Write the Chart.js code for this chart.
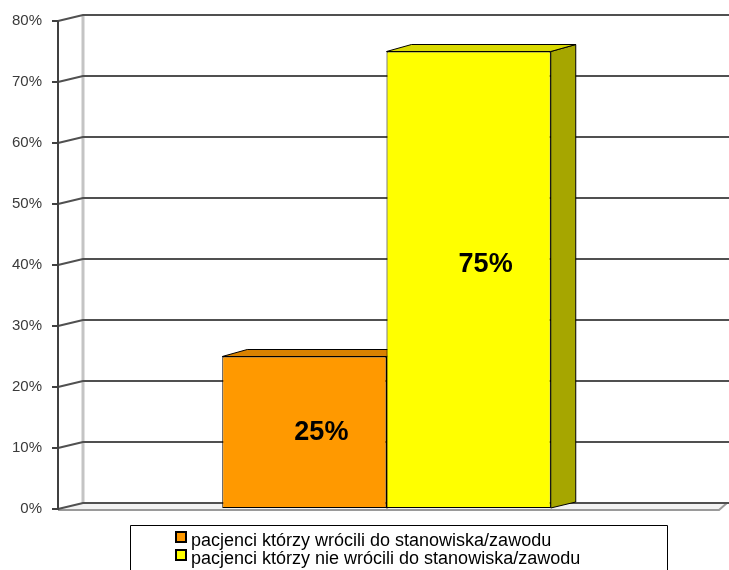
<!DOCTYPE html>
<html>
<head>
<meta charset="utf-8">
<script src="https://cdn.jsdelivr.net/npm/chart.js@4"></script>
<style>
html,body{margin:0;padding:0;background:#fff;}
#wrap{width:729px;height:570px;position:relative;}
</style>
</head>
<body>
<div id="wrap"><canvas id="c" width="729" height="570"></canvas></div>
<script>
const categories = [''];
const seriesLabels = ['pacjenci którzy wrócili do stanowiska/zawodu', 'pacjenci którzy nie wrócili do stanowiska/zawodu'];
const seriesValues = [[25], [75]];
const tickValues = [0, 10, 20, 30, 40, 50, 60, 70, 80];
const frontColors = ['#ff9900', '#ffff00'];
const topColors = ['#d98200', '#d9d900'];
const sideColors = ['#b36b00', '#a6a600'];

const DX = 25, DY = 6;

const threeD = {
  id: 'threeD',
  beforeDatasetsDraw(chart) {
    const ctx = chart.ctx;
    const y = chart.scales.y;
    const area = chart.chartArea;
    const L = area.left, R = area.right;
    ctx.save();
    // back wall vertical
    ctx.strokeStyle = '#c4c4c4';
    ctx.lineWidth = 3;
    ctx.beginPath();
    ctx.moveTo(L + DX, y.getPixelForValue(80) - DY);
    ctx.lineTo(L + DX, y.getPixelForValue(0) - DY);
    ctx.stroke();
    // floor
    const y0 = y.getPixelForValue(0);
    ctx.fillStyle = '#f2f2f2';
    ctx.beginPath();
    ctx.moveTo(L, y0);
    ctx.lineTo(L + DX, y0 - DY);
    ctx.lineTo(727, y0 - DY);
    ctx.lineTo(R + 4, y0 + 1);
    ctx.closePath();
    ctx.fill();
    ctx.strokeStyle = '#9a9a9a';
    ctx.lineWidth = 2;
    ctx.beginPath();
    ctx.moveTo(L, y0 + 1);
    ctx.lineTo(R + 4, y0 + 1);
    ctx.lineTo(727, y0 - DY);
    ctx.stroke();
    // gridlines
    ctx.strokeStyle = '#505050';
    ctx.lineWidth = 2;
    tickValues.forEach(v => {
      const py = y.getPixelForValue(v);
      ctx.beginPath();
      ctx.moveTo(L, py);
      ctx.lineTo(L + DX, py - DY);
      ctx.lineTo(729, py - DY);
      ctx.stroke();
    });
    // front axis line
    ctx.strokeStyle = '#404040';
    ctx.lineWidth = 2;
    ctx.beginPath();
    ctx.moveTo(L, y.getPixelForValue(80));
    ctx.lineTo(L, y0 + 1);
    ctx.stroke();
    // bar top and side faces
    chart.data.datasets.forEach((ds, i) => {
      const meta = chart.getDatasetMeta(i);
      meta.data.forEach(bar => {
        const x0 = bar.x - bar.width / 2, x1 = bar.x + bar.width / 2;
        const yt = bar.y, yb = bar.base;
        ctx.lineWidth = 1;
        ctx.strokeStyle = '#000';
        ctx.fillStyle = sideColors[i];
        ctx.beginPath();
        ctx.moveTo(x1, yt);
        ctx.lineTo(x1 + DX, yt - DY - 1);
        ctx.lineTo(x1 + DX, yb - DY);
        ctx.lineTo(x1, yb);
        ctx.closePath();
        ctx.fill(); ctx.stroke();
        ctx.fillStyle = topColors[i];
        ctx.beginPath();
        ctx.moveTo(x0, yt);
        ctx.lineTo(x0 + DX, yt - DY - 1);
        ctx.lineTo(x1 + DX, yt - DY - 1);
        ctx.lineTo(x1, yt);
        ctx.closePath();
        ctx.fill(); ctx.stroke();
      });
    });
    ctx.restore();
  },
  afterDatasetsDraw(chart) {
    const ctx = chart.ctx;
    ctx.save();
    ctx.font = 'bold 27px "Liberation Sans", Arial, sans-serif';
    ctx.fillStyle = '#000';
    ctx.textAlign = 'center';
    ctx.textBaseline = 'middle';
    chart.data.datasets.forEach((ds, i) => {
      const meta = chart.getDatasetMeta(i);
      meta.data.forEach((bar, j) => {
        const v = ds.data[j];
        const cy = Math.min((bar.y + bar.base) / 2, bar.y + 213);
        ctx.fillText(v + '%', bar.x + 17, cy);
      });
    });
    ctx.restore();
  },
  afterDraw(chart) {
    const ctx = chart.ctx;
    ctx.save();
    // legend box
    ctx.strokeStyle = '#000';
    ctx.lineWidth = 1;
    ctx.fillStyle = '#fff';
    ctx.beginPath();
    ctx.rect(130.5, 525.5, 537, 60);
    ctx.fill();
    ctx.stroke();
    ctx.font = '18px "Liberation Sans", Arial, sans-serif';
    ctx.textBaseline = 'alphabetic';
    ctx.textAlign = 'left';
    chart.data.datasets.forEach((ds, i) => {
      const top = 531 + i * 18;
      ctx.fillStyle = frontColors[i];
      ctx.fillRect(176, top + 1, 10, 10);
      ctx.lineWidth = 2;
      ctx.strokeStyle = '#000';
      ctx.strokeRect(176, top + 1, 10, 10);
      ctx.fillStyle = '#000';
      ctx.fillText(ds.label, 191, top + 15);
    });
    ctx.restore();
  }
};

new Chart(document.getElementById('c'), {
  type: 'bar',
  data: {
    labels: categories,
    datasets: seriesLabels.map((lab, i) => ({
      label: lab,
      data: seriesValues[i],
      backgroundColor: frontColors[i],
      borderColor: '#000',
      borderWidth: 1,
      borderSkipped: false
    }))
  },
  options: {
    responsive: false,
    animation: false,
    layout: { padding: { top: 21, bottom: 61, right: 14, left: 0 } },
    categoryPercentage: 0.5,
    barPercentage: 1,
    plugins: { legend: { display: false }, tooltip: { enabled: false } },
    scales: {
      x: { display: false },
      y: {
        min: 0, max: 80,
        afterFit(s) { s.width = 58; },
        afterBuildTicks(s) { s.ticks = tickValues.map(v => ({ value: v })); },
        ticks: {
          callback: v => v + '%',
          color: '#3a3a3a',
          font: { family: '"Liberation Sans", Arial, sans-serif', size: 15 },
          padding: 10
        },
        grid: { drawOnChartArea: false, tickLength: 6, color: '#404040', lineWidth: 2 },
        border: { display: false }
      }
    }
  },
  plugins: [threeD]
});
</script>
</body>
</html>
